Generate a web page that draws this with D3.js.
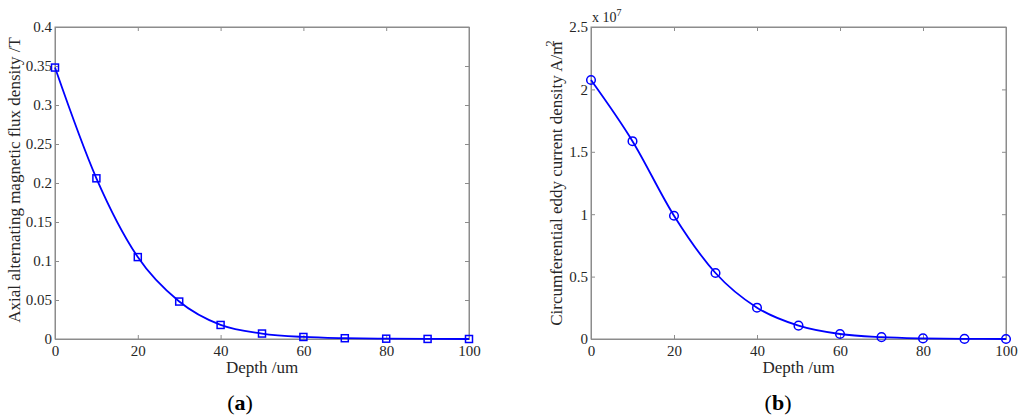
<!DOCTYPE html>
<html><head><meta charset="utf-8">
<script src="https://cdn.jsdelivr.net/npm/d3@7"></script>
<style>body{margin:0;background:#fff}svg{display:block}</style>
</head><body>
<svg id="c" width="1024" height="418"></svg>
<script>
const depth = [0,10,20,30,40,50,60,70,80,90,100];
const fluxDensity = [0.348,0.206,0.105,0.048,0.018,0.007,0.0026,0.001,0.0004,0.0001,0.0];
const eddyCurrent = [2.075,1.585,0.988,0.529,0.251,0.107,0.040,0.015,0.005,0.001,0.0]; // x 10^7
const xTicks = [0,20,40,60,80,100];
const yTicksA = [0,0.05,0.1,0.15,0.2,0.25,0.3,0.35,0.4];
const yTicksB = [0,0.5,1,1.5,2,2.5];

const svg = d3.select("#c");
const FONT = "'Liberation Serif','Times New Roman',serif";
const AX = "#8c8c8c", TXT = "#262626", BLUE = "#0000ff";

function panel(o){
  const g = svg.append("g");
  const x = d3.scaleLinear().domain([0,100]).range([o.l,o.r]);
  const y = d3.scaleLinear().domain([0,o.ymax]).range([o.b,o.t]);
  const tl = 4;
  g.append("rect").attr("x",o.l).attr("y",o.t).attr("width",o.r-o.l).attr("height",o.b-o.t)
    .attr("fill","none").attr("stroke",AX).attr("stroke-width",1);
  const xa = g.append("g").attr("transform",`translate(0,${o.b})`)
    .call(d3.axisBottom(x).tickValues(xTicks).tickSize(-tl).tickPadding(6).tickFormat(d3.format("d")));
  const xt = g.append("g").attr("transform",`translate(0,${o.t})`)
    .call(d3.axisTop(x).tickValues(xTicks).tickSize(-tl).tickFormat(""));
  const ya = g.append("g").attr("transform",`translate(${o.l},0)`)
    .call(d3.axisLeft(y).tickValues(o.yticks).tickSize(-tl).tickPadding(3).tickFormat(o.fmt));
  const yr = g.append("g").attr("transform",`translate(${o.r},0)`)
    .call(d3.axisRight(y).tickValues(o.yticks).tickSize(-tl).tickFormat(""));
  [xa,xt,ya,yr].forEach(a=>{
    a.select(".domain").attr("stroke",AX);
    a.selectAll(".tick line").attr("stroke",AX);
    a.selectAll("text").attr("fill",TXT).style("font-family",FONT).style("font-size","15px");
  });
  const line = d3.line().x(d=>x(d[0])).y(d=>y(d[1])).curve(d3.curveMonotoneX);
  const pts = depth.map((d,i)=>[d,o.vals[i]]);
  g.append("path").datum(pts).attr("d",line).attr("fill","none").attr("stroke",BLUE).attr("stroke-width",1.8);
  if(o.marker==="square"){
    g.selectAll(".m").data(pts).enter().append("rect")
      .attr("x",d=>x(d[0])-3.5).attr("y",d=>y(d[1])-3.5).attr("width",7).attr("height",7)
      .attr("fill","none").attr("stroke",BLUE).attr("stroke-width",1.5);
  } else {
    g.selectAll(".m").data(pts).enter().append("circle")
      .attr("cx",d=>x(d[0])).attr("cy",d=>y(d[1])).attr("r",4.3)
      .attr("fill","none").attr("stroke",BLUE).attr("stroke-width",1.5);
  }
  g.append("text").attr("x",(o.l+o.r)/2).attr("y",373).attr("text-anchor","middle")
    .attr("fill",TXT).style("font-family",FONT).style("font-size","17px").text("Depth /um");
  const pl = g.append("text").attr("x",o.plx).attr("y",410).attr("text-anchor","middle")
    .attr("fill","#000").style("font-family",FONT).style("font-size","22px");
  pl.append("tspan").text("(");
  pl.append("tspan").attr("font-weight","bold").text(o.letter);
  pl.append("tspan").text(")");
  return {g,x,y};
}

const A = panel({l:55,r:469,t:27,b:339,ymax:0.4,yticks:yTicksA,vals:fluxDensity,marker:"square",
  fmt:d=>d===0?"0":String(d), plx:240, letter:"a"});
A.g.append("text").attr("transform",`translate(20,180) rotate(-90)`).attr("text-anchor","middle")
  .attr("fill",TXT).style("font-family",FONT).style("font-size","17px")
  .text("Axial alternating magnetic flux density /T");

const B = panel({l:591,r:1006,t:27,b:339,ymax:2.5,yticks:yTicksB,vals:eddyCurrent,marker:"circle",
  fmt:d=>d===0?"0":String(d), plx:778, letter:"b"});
const yl = B.g.append("text").attr("transform",`translate(562,183) rotate(-90)`).attr("text-anchor","middle")
  .attr("fill",TXT).style("font-family",FONT).style("font-size","17px");
yl.append("tspan").text("Circumferential eddy current density A/m");
yl.append("tspan").attr("dy",-8).attr("dx",-5).style("font-size","13px").text("2");
const ex = B.g.append("text").attr("x",592).attr("y",22).attr("fill",TXT)
  .style("font-family",FONT).style("font-size","14px");
ex.append("tspan").text("x 10");
ex.append("tspan").attr("dy",-6).style("font-size","10px").text("7");
</script>
</body></html>
